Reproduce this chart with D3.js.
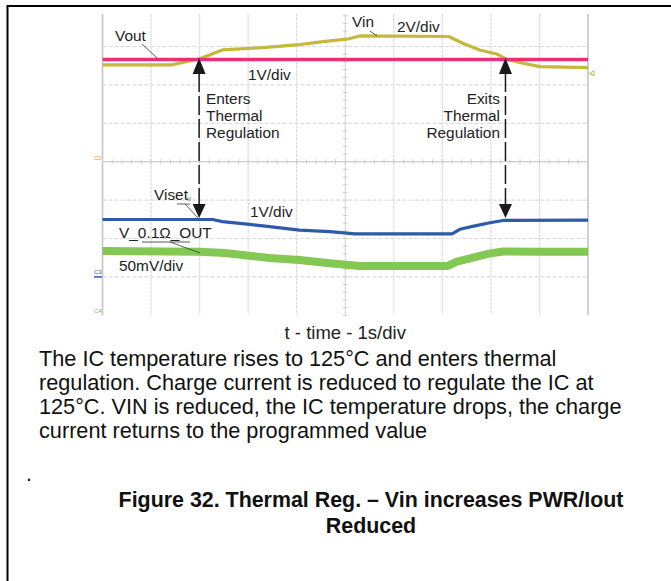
<!DOCTYPE html>
<html><head><meta charset="utf-8">
<script src="https://cdn.jsdelivr.net/npm/d3@7"></script>
<style>
html,body{margin:0;padding:0;background:#fff;}
svg{display:block;font-family:"Liberation Sans",Arial,Helvetica,sans-serif;}
</style></head>
<body>
<script>
// ---- data (read from the scope capture) ----
const timeVout = [0, 2.5, 5, 7.5, 10];                 // s
const voutVolts = [4.16, 4.16, 4.16, 4.16, 4.16];      // V, 1V/div

const timeVin = [0, 1.42, 2.0, 2.47, 3.36, 4.0, 4.54, 5.03, 5.30, 7.13, 7.42, 7.77, 8.12, 8.33, 8.66, 9.01, 10];
const vinVolts = [5.04, 5.04, 5.36, 5.82, 5.95, 6.08, 6.25, 6.38, 6.55, 6.52, 6.17, 5.82, 5.61, 5.33, 5.13, 4.95, 4.90]; // V, 2V/div

const timeViset = [0, 2.27, 2.47, 3.03, 3.44, 4.06, 4.68, 5.20, 7.20, 7.36, 7.67, 7.98, 8.25, 10];
const visetVolts = [1.495, 1.495, 1.44, 1.37, 1.31, 1.22, 1.18, 1.12, 1.12, 1.24, 1.33, 1.41, 1.47, 1.48]; // V, 1V/div

const timeVsense = [0, 2.0, 2.52, 3.44, 4.06, 4.68, 5.30, 7.11, 7.30, 7.57, 7.98, 8.25, 9.01, 10];
const vsenseMilliVolts = [83.7, 82.8, 81.1, 74.6, 72.0, 67.7, 64.2, 64.2, 69.8, 74.2, 80.5, 83.0, 82.8, 82.6]; // mV, 50mV/div

const timeDivTicks = [0,1,2,3,4,5,6,7,8,9,10];
const vertDivTicks = [-3,-2,-1,0,1,2,3];
const eventTimes = [1.99, 8.3];   // enter / exit thermal regulation (s)

const paragraphLines = [
  "The IC temperature rises to 125°C and enters thermal",
  "regulation. Charge current is reduced to regulate the IC at",
  "125°C. VIN is reduced, the IC temperature drops, the charge",
  "current returns to the programmed value"
];
const captionLines = ["Figure 32. Thermal Reg. – Vin increases PWR/Iout", "Reduced"];

// channel settings: volts per division and ground position (divisions)
const channels = {
  vout:   {perDiv: 1,  ground: -1.5, color: "#e8307a"},
  vin:    {perDiv: 2,  ground: 0,    color: "#c6b83c"},
  viset:  {perDiv: 1,  ground: -3,   color: "#2f5aab"},
  vsense: {perDiv: 50, ground: -4,   color: "#7cc54a"}
};

// ---- drawing ----
const W = 671, H = 581;
const svg = d3.select("body").append("svg").attr("width", W).attr("height", H);
svg.append("rect").attr("width", W).attr("height", H).attr("fill", "#fff");

// page frame
svg.append("line").attr("x1", 7).attr("x2", W).attr("y1", 6).attr("y2", 6).attr("stroke", "#000").attr("stroke-width", 2);
svg.append("line").attr("x1", 7.5).attr("x2", 7.5).attr("y1", 5).attr("y2", H).attr("stroke", "#000").attr("stroke-width", 2);

const x = d3.scaleLinear().domain([0, 10]).range([102.5, 588]);
const yDiv = d3.scaleLinear().domain([-4, 4]).range([315.3, 8.1]);
const gridTop = 14, gridBot = 315;

const g = svg.append("g");
// vertical grid lines
g.selectAll(".vg").data(timeDivTicks).enter().append("line")
  .attr("x1", d => x(d)).attr("x2", d => x(d)).attr("y1", gridTop).attr("y2", gridBot)
  .attr("stroke", d => (d === 0 || d === 10) ? "#c4c4c4" : "#dadada")
  .attr("stroke-width", d => (d === 0 || d === 10) ? 1.6 : 1.2)
  .attr("stroke-dasharray", d => (d === 0 || d === 10 || d === 5) ? null : "3,1");
// horizontal grid lines
g.selectAll(".hg").data(vertDivTicks).enter().append("line")
  .attr("x1", x(0)).attr("x2", x(10)).attr("y1", d => yDiv(d)).attr("y2", d => yDiv(d))
  .attr("stroke", d => d === 0 ? "#cccccc" : "#dadada")
  .attr("stroke-width", 1.2)
  .attr("stroke-dasharray", d => d === 0 ? null : "4,2");
// minor ticks on the centre axes
const hMinor = d3.range(0, 10.001, 0.2);
g.selectAll(".ht").data(hMinor).enter().append("line")
  .attr("x1", d => x(d)).attr("x2", d => x(d)).attr("y1", yDiv(0) - 2.5).attr("y2", yDiv(0) + 2.5)
  .attr("stroke", "#cfcfcf").attr("stroke-width", 1);
const vMinor = d3.range(-4, 3.9, 0.2);
g.selectAll(".vt").data(vMinor).enter().append("line")
  .attr("x1", x(5) - 2.5).attr("x2", x(5) + 2.5).attr("y1", d => yDiv(d)).attr("y2", d => yDiv(d))
  .attr("stroke", "#cfcfcf").attr("stroke-width", 1);

// channel markers
const mk = svg.append("g").attr("font-size", 6);
mk.append("text").attr("x", 94).attr("y", yDiv(channels.vin.ground) - 2).attr("fill", "#e0a030").text("C2");
mk.append("text").attr("x", 94).attr("y", yDiv(channels.viset.ground) - 3).attr("fill", "#2f5aab").text("C3");
mk.append("line").attr("x1", 94).attr("x2", 102).attr("y1", yDiv(channels.viset.ground)).attr("y2", yDiv(channels.viset.ground)).attr("stroke", "#2f5aab").attr("stroke-width", 1.5);
mk.append("text").attr("x", 94).attr("y", yDiv(channels.vsense.ground) - 2).attr("fill", "#78c245").text("C4");
svg.append("path").attr("d", `M${x(10)+6},${yDiv(2.3)-2.5}L${x(10)+1.5},${yDiv(2.3)}L${x(10)+6},${yDiv(2.3)+2.5}Z`)
  .attr("fill", "none").attr("stroke", channels.vin.color).attr("stroke-width", 1);

// traces
function trace(times, vals, ch, width, op) {
  const pts = times.map((t, i) => [t, vals[i]]);
  const line = d3.line().x(d => x(d[0])).y(d => yDiv(ch.ground + d[1] / ch.perDiv));
  svg.append("path").datum(pts).attr("d", line).attr("fill", "none")
    .attr("stroke", ch.color).attr("stroke-width", width).attr("stroke-opacity", op || 1)
    .attr("stroke-linejoin", "round");
}
trace(timeVsense, vsenseMilliVolts, channels.vsense, 8, 0.95);
trace(timeViset, visetVolts, channels.viset, 3.2);
trace(timeVin, vinVolts, channels.vin, 3.2);
trace(timeVout, voutVolts, channels.vout, 3.4);

// arrows
const arrowTop = yDiv(channels.vout.ground + voutVolts[0] / channels.vout.perDiv) - 1.5;
const arrowBot = yDiv(channels.viset.ground + visetVolts[0] / channels.viset.perDiv) - 1.5;
eventTimes.forEach(t => {
  const ax = x(t);
  svg.append("line").attr("x1", ax).attr("x2", ax).attr("y1", arrowTop + 15).attr("y2", arrowBot - 13)
    .attr("stroke", "#1a1a1a").attr("stroke-width", 1.5).attr("stroke-dasharray", "19,4");
  svg.append("path").attr("d", `M${ax},${arrowTop}L${ax-6.5},${arrowTop+16}L${ax+6.5},${arrowTop+16}Z`).attr("fill", "#1a1a1a");
  svg.append("path").attr("d", `M${ax},${arrowBot}L${ax-6.5},${arrowBot-14}L${ax+6.5},${arrowBot-14}Z`).attr("fill", "#1a1a1a");
});

// annotations
const ann = svg.append("g").attr("font-size", 15.4).attr("fill", "#222");
ann.append("text").attr("x", 115).attr("y", 41).text("Vout");
ann.append("text").attr("x", 352).attr("y", 27).text("Vin");
ann.append("text").attr("x", 397).attr("y", 32).text("2V/div");
ann.append("text").attr("x", 248).attr("y", 80).text("1V/div");
["Enters", "Thermal", "Regulation"].forEach((s, i) =>
  ann.append("text").attr("x", 206).attr("y", 104 + i * 17).text(s));
["Exits", "Thermal", "Regulation"].forEach((s, i) =>
  ann.append("text").attr("x", 500).attr("y", 104 + i * 17).attr("text-anchor", "end").text(s));
ann.append("text").attr("x", 154).attr("y", 200).text("Viset");
ann.append("text").attr("x", 250).attr("y", 217).text("1V/div");
ann.append("text").attr("x", 119).attr("y", 238).text("V_0.1Ω_OUT");
ann.append("text").attr("x", 119).attr("y", 271).text("50mV/div");
ann.append("text").attr("x", 187).attr("y", 201).attr("font-size", 5).attr("fill", "#777").text("M");

const leaders = [
  [142, 44, 157, 58], [370, 31, 377, 36],
  [177, 204, 190, 204], [185, 204, 198, 218],
  [142, 242, 190, 242], [170, 242, 200, 253]
];
svg.selectAll(".ld").data(leaders).enter().append("line")
  .attr("x1", d => d[0]).attr("y1", d => d[1]).attr("x2", d => d[2]).attr("y2", d => d[3])
  .attr("stroke", "#333").attr("stroke-width", 0.8);

// axis title
svg.append("text").attr("x", x(5)).attr("y", 339).attr("text-anchor", "middle")
  .attr("font-size", 18.5).attr("fill", "#222").text("t - time - 1s/div");

// paragraph
const para = svg.append("g").attr("font-size", 21.7).attr("fill", "#111");
paragraphLines.forEach((s, i) => para.append("text").attr("x", 39).attr("y", 365.5 + i * 24).text(s));
svg.append("text").attr("x", 26).attr("y", 481).attr("font-size", 21.7).attr("fill", "#111").text(".");

// caption
const cap = svg.append("g").attr("font-size", 21.4).attr("font-weight", "bold").attr("fill", "#111").attr("text-anchor", "middle");
captionLines.forEach((s, i) => cap.append("text").attr("x", 371).attr("y", 507 + i * 26).text(s));
</script>
</body></html>
